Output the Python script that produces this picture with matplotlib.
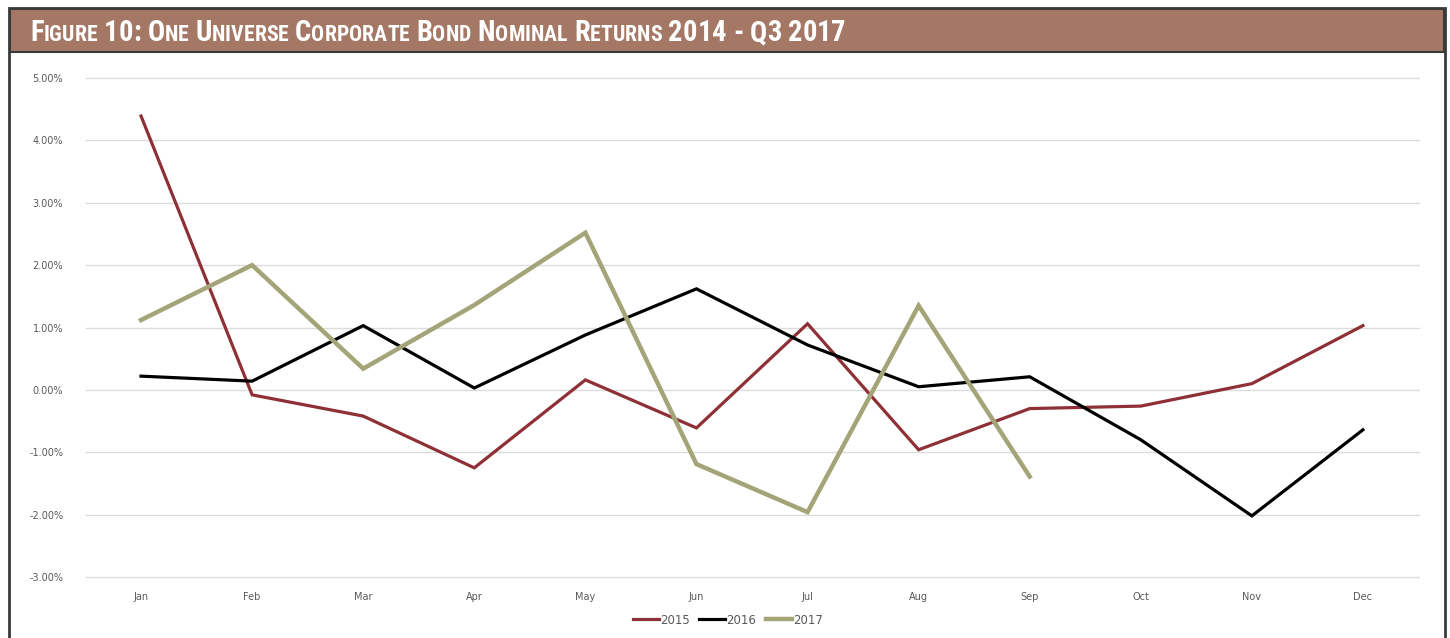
import matplotlib
matplotlib.use("Agg")
import matplotlib.pyplot as plt
from matplotlib.offsetbox import TextArea, HPacker, AnchoredOffsetbox
from matplotlib.patches import Rectangle

months = ["Jan", "Feb", "Mar", "Apr", "May", "Jun", "Jul", "Aug", "Sep", "Oct", "Nov", "Dec"]
r2015 = [4.39, -0.08, -0.42, -1.25, 0.16, -0.61, 1.06, -0.96, -0.30, -0.26, 0.10, 1.03]
r2016 = [0.22, 0.14, 1.03, 0.03, 0.88, 1.62, 0.72, 0.05, 0.21, -0.80, -2.02, -0.64]
r2017 = [1.12, 2.00, 0.34, 1.36, 2.52, -1.19, -1.96, 1.35, -1.39]
yticks = [-3, -2, -1, 0, 1, 2, 3, 4, 5]
title = "Figure 10: One Universe Corporate Bond Nominal Returns 2014 - Q3 2017"

W, H = 1450, 638
fig = plt.figure(figsize=(W / 100, H / 100), dpi=100)
fig.patch.set_facecolor("white")

def fx(px):
    return px / W
def fy(py):
    return 1 - py / H

fig.patches.append(Rectangle((fx(9), fy(640)), fx(1445) - fx(9), fy(8) - fy(640),
                             transform=fig.transFigure, facecolor="none",
                             edgecolor="#3a3a3a", linewidth=2, zorder=5))
fig.patches.append(Rectangle((fx(10), fy(52)), fx(1444) - fx(10), fy(9) - fy(52),
                             transform=fig.transFigure, facecolor="#A57865",
                             edgecolor="#3a3a3a", linewidth=1.5, zorder=1))

fam = ["Roboto Condensed", "Roboto"]

def build_title(big):
    small = big * 0.76
    parts = []
    for ch in title:
        if ch.islower():
            parts.append(TextArea(ch.upper(), textprops=dict(color="white", fontsize=small,
                                                              fontweight="bold", family=fam,
                                                              fontstretch="condensed")))
        else:
            parts.append(TextArea(ch, textprops=dict(color="white", fontsize=big,
                                                      fontweight="bold", family=fam,
                                                      fontstretch="condensed")))
    box = HPacker(children=parts, align="baseline", pad=0, sep=0)
    ab = AnchoredOffsetbox(loc="center left", child=box, pad=0, frameon=False,
                           bbox_to_anchor=(fx(30), fy(33)), bbox_transform=fig.transFigure,
                           borderpad=0)
    ab.set_zorder(6)
    fig.add_artist(ab)
    return ab

ab = build_title(20)
fig.canvas.draw()
wpx = ab.get_window_extent(fig.canvas.get_renderer()).width
ab.remove()
size = 20 * 815.0 / wpx
build_title(min(size, 22))

left, right = fx(85.5), fx(1418.5)
top, bottom = fy(78), fy(577)
ax = fig.add_axes([left, bottom, right - left, top - bottom])
ax.set_zorder(3)
x = list(range(len(months)))
ax.plot(x, r2015, color="#8E3035", linewidth=2.3, label="2015", solid_joinstyle="miter", zorder=3)
ax.plot(x, r2016, color="#000000", linewidth=2.3, label="2016", solid_joinstyle="miter", zorder=3)
ax.plot(x[:len(r2017)], r2017, color="#A3A578", linewidth=3.2, label="2017", solid_joinstyle="miter", zorder=3)

ax.set_xlim(-0.5, len(months) - 0.5)
ax.set_ylim(-3, 5)
ax.set_yticks(yticks)
ax.set_yticklabels([f"{v:.2f}%" for v in yticks])
ax.set_xticks(x)
ax.set_xticklabels(months)
ax.grid(axis="y", color="#DCDCDC", linewidth=1)
for gl in ax.get_ygridlines():
    gl.set_clip_on(False)
ax.set_axisbelow(True)
for s in ax.spines.values():
    s.set_visible(False)
ax.tick_params(axis="both", length=0, labelsize=7, labelcolor="#595959")
ax.tick_params(axis="y", pad=16)
ax.tick_params(axis="x", pad=11)
ax.set_facecolor("none")

leg = fig.legend(loc="center", bbox_to_anchor=(fx(728), fy(620)), ncol=3, frameon=False,
                 fontsize=8.5, handlelength=2.2, handletextpad=0.1, columnspacing=0.8,
                 labelcolor="#595959")

fig.savefig("out.png", dpi=100)
